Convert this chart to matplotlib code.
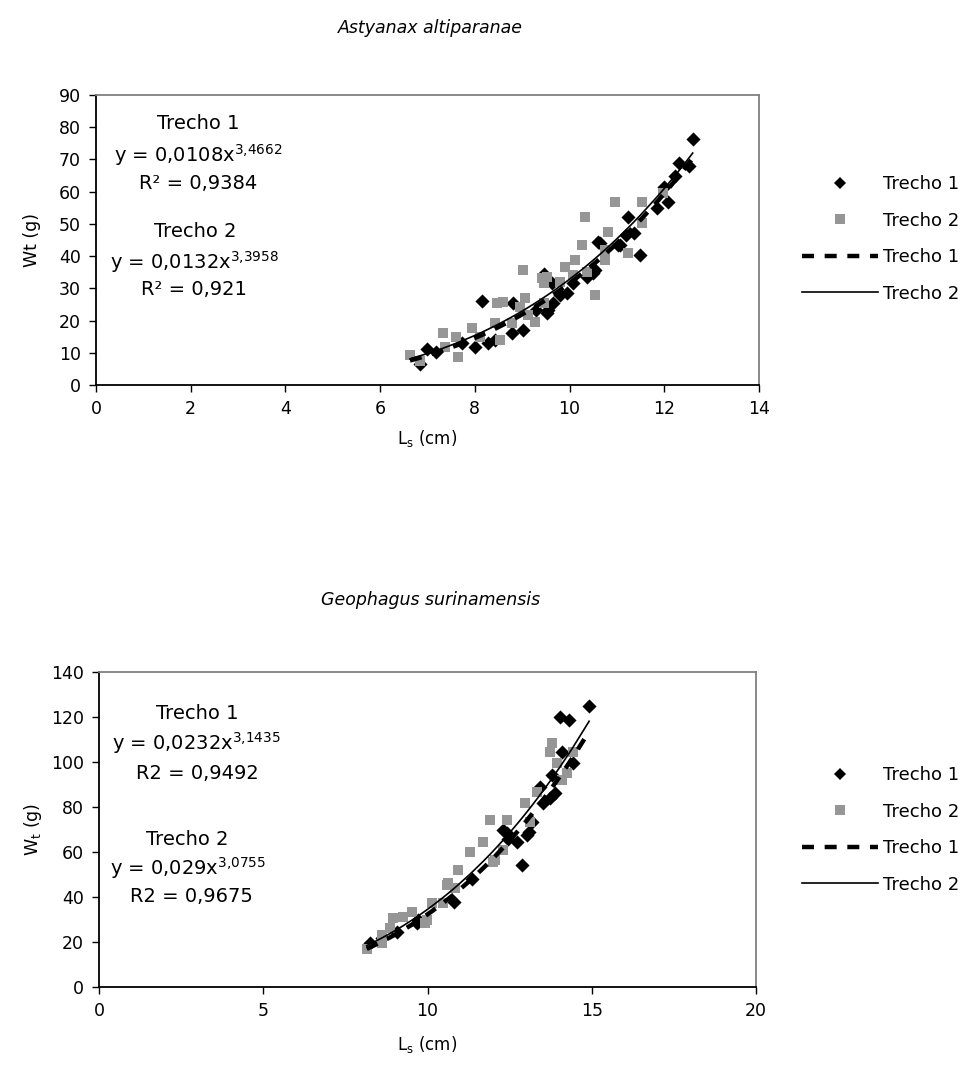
import numpy as np
import matplotlib
matplotlib.use('Agg')
import matplotlib.pyplot as plt
from matplotlib.lines import Line2D

plt.rcParams['font.family'] = ['DejaVu Sans']
plt.rcParams['mathtext.fontset'] = 'dejavusans'

# ---- Astyanax altiparanae (Ls cm, Wt g) ----
ast_x1 = [6.84, 6.98, 7.19, 7.72, 8.0, 8.16, 8.28, 8.42, 8.78, 8.81, 9.02, 9.3,
          9.45, 9.52, 9.52, 9.55, 9.62, 9.66, 9.8, 9.94, 10.08, 10.36, 10.5, 10.54,
          10.6, 10.64, 11.03, 11.06, 11.2, 11.24, 11.35, 11.49, 11.84, 12.0, 12.08,
          12.23, 12.32, 12.53, 12.6]
ast_y1 = [6.5, 11.2, 10.3, 12.9, 11.9, 26.1, 12.9, 14.0, 16.0, 25.4, 17.1, 23.3,
          34.4, 22.3, 32.6, 23.3, 31.6, 25.4, 28.0, 28.5, 31.5, 33.6, 34.7, 35.7,
          44.5, 44.0, 43.4, 43.4, 46.6, 52.2, 47.1, 40.3, 55.0, 61.5, 56.9,
          64.9, 69.0, 68.0, 76.3]
ast_x2 = [6.63, 6.84, 7.33, 7.37, 7.61, 7.65, 7.93, 8.11, 8.42, 8.46, 8.53, 8.6,
          8.78, 8.95, 9.02, 9.06, 9.13, 9.27, 9.41, 9.45, 9.45, 9.52, 9.8, 9.9,
          10.08, 10.11, 10.26, 10.33, 10.36, 10.54, 10.75, 10.75, 10.82, 10.96,
          11.24, 11.52, 11.52, 11.98]
ast_y2 = [9.2, 7.4, 16.0, 11.9, 15.0, 8.8, 17.6, 15.0, 19.1, 25.4, 14.0, 25.8,
          19.1, 24.3, 35.7, 26.9, 21.7, 19.6, 33.1, 25.4, 31.6, 33.6, 32.1, 36.7,
          34.1, 38.8, 43.4, 52.2, 35.2, 27.9, 41.9, 38.8, 47.6, 56.9,
          40.9, 50.2, 56.9, 59.5]
ast_fit1 = (0.0108, 3.4662)
ast_fit2 = (0.0132, 3.3958)

# ---- Geophagus surinamensis ----
geo_x1 = [8.25, 8.6, 9.06, 9.67, 9.72, 10.8, 11.34, 12.3, 12.41, 12.45, 12.72,
          12.87, 13.02, 13.1, 13.17, 13.42, 13.52, 13.73, 13.78, 13.88, 14.03,
          14.08, 14.32, 14.44, 14.92]
geo_y1 = [19.4, 21.6, 24.6, 28.3, 30.0, 37.9, 47.9, 70.0, 68.6, 66.0, 64.6,
          54.2, 67.6, 69.0, 73.5, 89.0, 81.6, 83.9, 94.2, 86.1, 119.9,
          104.6, 118.7, 99.4, 125.0]
geo_x2 = [8.15, 8.6, 8.6, 8.86, 8.96, 9.26, 9.52, 9.92, 9.98, 10.13, 10.48, 10.58,
          10.63, 10.84, 10.94, 11.29, 11.7, 11.9, 12.0, 12.05, 12.31, 12.41, 12.97,
          13.12, 13.32, 13.73, 13.78, 13.93, 14.08, 14.24, 14.44]
geo_y2 = [17.0, 23.1, 19.4, 26.1, 30.5, 31.2, 33.5, 28.3, 29.8, 37.2, 37.2, 45.3,
          46.1, 43.9, 52.0, 60.1, 64.6, 74.2, 55.7, 56.4, 60.9, 74.2, 81.6,
          73.5, 86.8, 104.6, 108.3, 99.4, 92.0, 95.0, 104.6]
geo_fit1 = (0.0232, 3.1435)
geo_fit2 = (0.029, 3.0755)

GRAY = '#969696'
dash_style = (0, (2.7, 2.4))
D_MS = 7.2
S_MS = 7.8

fig = plt.figure(figsize=(9.73, 10.75), dpi=100)


def panel(rect, x1, y1, x2, y2, fit1, fit2, xlim, xstep, ylim, ystep,
          title, title_y, ylab, texts, tx, leg_y):
    ax = fig.add_axes(rect)
    ax.scatter(x1, y1, marker='D', s=D_MS**2, color='black', linewidths=0, zorder=2)
    ax.scatter(x2, y2, marker='s', s=S_MS**2, color=GRAY, linewidths=0, zorder=3)
    xs = np.sort(np.concatenate([x1, x2]))
    ax.plot(xs, fit1[0] * xs ** fit1[1], color='black', lw=3.2,
            linestyle=dash_style, zorder=4)
    ax.plot(xs, fit2[0] * xs ** fit2[1], color='black', lw=1.2, zorder=5)

    ax.set_xlim(*xlim)
    ax.set_ylim(*ylim)
    ax.set_xticks(np.arange(xlim[0], xlim[1] + 0.1, xstep))
    ax.set_yticks(np.arange(ylim[0], ylim[1] + 0.1, ystep))
    ax.tick_params(direction='out', length=5, width=1, labelsize=12.5, pad=6)
    for s in ['top', 'right']:
        ax.spines[s].set_color('#808080')
        ax.spines[s].set_linewidth(1.3)
    for s in ['left', 'bottom']:
        ax.spines[s].set_linewidth(1.3)

    ax.set_xlabel(r'L$_\mathregular{s}$ (cm)', fontsize=12)
    ax.xaxis.set_label_coords(0.5, -0.15)
    ax.set_ylabel(ylab, fontsize=12.5)
    ax.yaxis.set_label_coords(-0.083, 0.5)

    fig.text(0.442, title_y, title, style='italic', fontsize=12.5,
             ha='center', va='center')

    for (s, yy), xx in zip(texts, tx):
        ax.text(xx, yy, s, transform=ax.transAxes, ha='center', va='baseline',
                fontsize=14)

    handles = [
        Line2D([], [], marker='D', ms=D_MS * 0.85, color='black', lw=0, mew=0),
        Line2D([], [], marker='s', ms=S_MS * 0.85, color=GRAY, lw=0, mew=0),
        Line2D([], [], color='black', lw=3.2, linestyle=dash_style),
        Line2D([], [], color='black', lw=1.2),
    ]
    ax.legend(handles, ['Trecho 1', 'Trecho 2', 'Trecho 1', 'Trecho 2'],
              loc='center left', bbox_to_anchor=(0.824, leg_y),
              bbox_transform=fig.transFigure, frameon=False, fontsize=13,
              handlelength=4.2, handletextpad=0.3, labelspacing=1.02,
              borderpad=0, borderaxespad=0)
    return ax


panel([96 / 973, 1 - 385 / 1075, 663 / 973, 290 / 1075],
      ast_x1, ast_y1, ast_x2, ast_y2, ast_fit1, ast_fit2,
      (0, 14), 2, (0, 90), 10,
      'Astyanax altiparanae', 1 - 28 / 1075, 'Wt (g)',
      [('Trecho 1', 0.883),
       (r'y = 0,0108x$^{3{,}4662}$', 0.769),
       ('R² = 0,9384', 0.676),
       ('Trecho 2', 0.510),
       (r'y = 0,0132x$^{3{,}3958}$', 0.400),
       ('R² = 0,921', 0.310)],
      [0.154, 0.154, 0.154, 0.15, 0.148, 0.148],
      1 - 239 / 1075)

panel([99 / 973, 1 - 987 / 1075, 657 / 973, 315 / 1075],
      geo_x1, geo_y1, geo_x2, geo_y2, geo_fit1, geo_fit2,
      (0, 20), 5, (0, 140), 20,
      'Geophagus surinamensis', 1 - 600 / 1075, r'W$_\mathregular{t}$ (g)',
      [('Trecho 1', 0.851),
       (r'y = 0,0232x$^{3{,}1435}$', 0.752),
       ('R2 = 0,9492', 0.660),
       ('Trecho 2', 0.451),
       (r'y = 0,029x$^{3{,}0755}$', 0.356),
       ('R2 = 0,9675', 0.270)],
      [0.149, 0.149, 0.149, 0.135, 0.135, 0.14],
      1 - 830 / 1075)

fig.savefig('out.png', dpi=100)
